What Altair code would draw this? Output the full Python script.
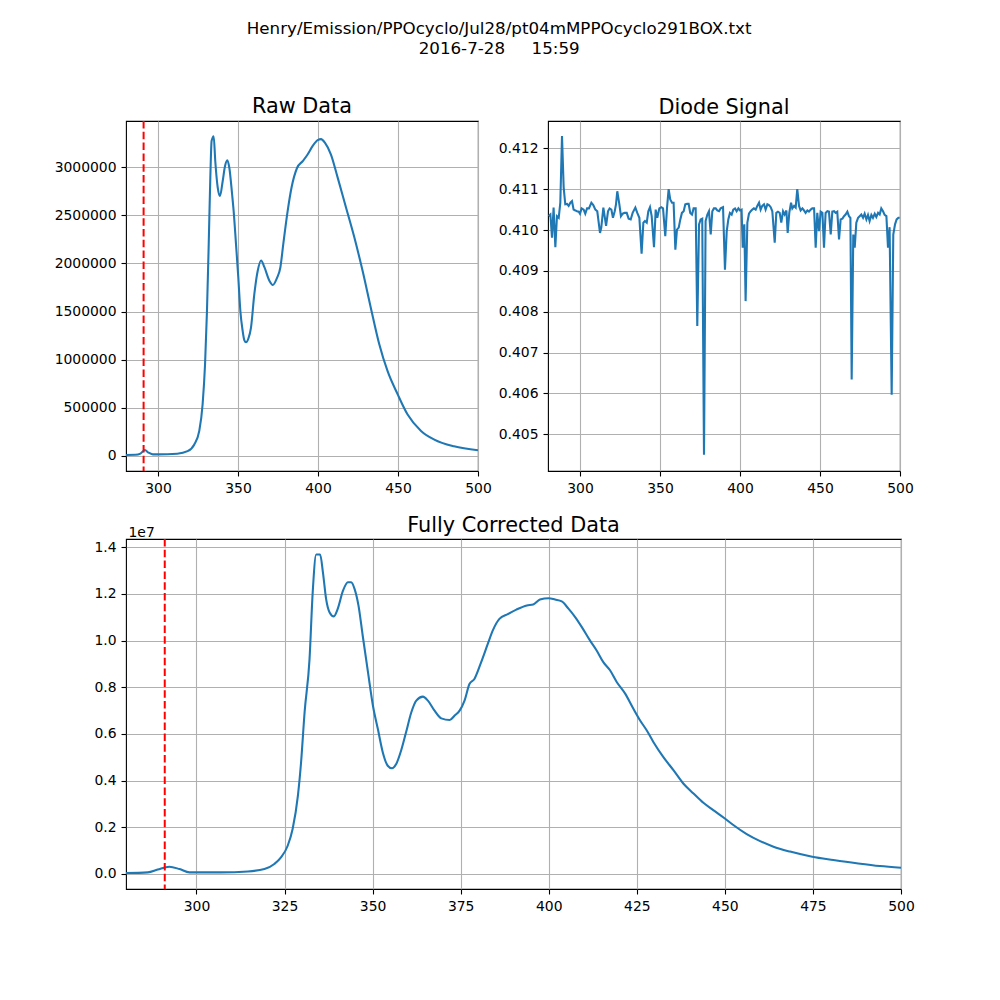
import altair as alt
import pandas as pd

FONT = "DejaVu Sans"
BLUE = "#1f77b4"

# ---------------- data ----------------
raw_nm = [280, 286, 289, 291.8, 294, 296.7, 300, 312, 318.5, 322.7,
          325.8, 327.9, 329.4, 330.6, 331.7, 332.7, 333.5, 334.8, 335.8, 337.3,
          338.75, 340.4, 341.9, 343.3, 344.6, 346.3, 347.3, 348.75, 350.2, 351.5,
          352.9, 354, 355, 356.5, 358.1, 360.2, 362.3, 364.4, 366.5, 369.6,
          371.7, 374.4, 376.5, 378.3, 381, 383.5, 386.9, 390.4, 393.5, 396.7,
          399.8, 401.9, 404.4, 408.1, 412.3, 417.5, 422.7, 427.9, 433, 438.3,
          443.5, 449.8, 456, 464.4, 472.7, 485, 500]
raw_e6 = [0.01, 0.012, 0.025, 0.062, 0.035, 0.017, 0.017, 0.024, 0.05, 0.12,
          0.26, 0.54, 0.95, 1.5, 2.2, 2.89, 3.27, 3.32, 3.06, 2.79,
          2.70, 2.85, 3.01, 3.07, 2.99, 2.72, 2.54, 2.2, 1.85, 1.5,
          1.3, 1.2, 1.18, 1.22, 1.33, 1.68, 1.92, 2.03, 1.96, 1.82,
          1.775, 1.85, 1.96, 2.2, 2.54, 2.79, 2.99, 3.06, 3.13, 3.22,
          3.28, 3.29, 3.25, 3.13, 2.89, 2.58, 2.27, 1.92, 1.54, 1.16,
          0.88, 0.64, 0.43, 0.26, 0.17, 0.10, 0.06]

diode_nm = [280.4, 281.5, 282.5, 283.5, 284.6, 285.6, 286.7, 287.7, 288.75, 289.8,
            290.8, 291.9, 292.9, 294.0, 295.0, 296.0, 297.1, 298.1, 299.2, 300.0,
            301.0, 302.3, 303.3, 304.4, 305.6, 307.1, 308.3, 309.6, 310.8, 312.5,
            313.3, 314.6, 316.3, 317.5, 318.5, 319.6, 320.6, 321.7, 322.5, 323.3,
            324.6, 325.6, 326.7, 327.9, 329.2, 330.4, 331.7, 332.9, 334.6, 335.8,
            337.1, 338.5, 339.6, 340.6, 341.7, 342.7, 343.75, 344.8, 346.25, 347.3,
            348.3, 349.6, 350.8, 351.9, 353.3, 354.4, 355.4, 356.4, 357.5, 358.5,
            359.6, 360.6, 361.7, 362.7, 363.7, 364.8, 365.8, 366.9, 367.9, 368.9,
            370.0, 371.0, 372.3, 373.3, 374.4, 375.4, 376.4, 377.5, 378.5, 379.6,
            380.6, 381.7, 382.7, 383.7, 384.8, 385.8, 386.9, 387.9, 389.4, 390.6,
            391.7, 392.7, 393.7, 394.8, 395.8, 396.9, 397.9, 399.0, 400.0, 401.0,
            401.7, 402.7, 403.5, 404.6, 405.6, 406.7, 407.7, 408.7, 409.8, 410.8,
            411.9, 412.9, 413.9, 415.0, 416.0, 417.1, 418.1, 419.2, 420.2, 421.7,
            422.7, 423.7, 424.8, 425.8, 426.9, 427.9, 429.0, 429.8, 430.8, 431.9,
            432.7, 433.8, 434.8, 435.8, 436.9, 437.9, 439.0, 440.0, 441.0, 442.1,
            443.1, 444.2, 445.2, 446.3, 447.3, 448.3, 449.4, 450.4, 451.5, 452.5,
            453.5, 454.6, 455.6, 456.7, 457.7, 458.8, 459.8, 460.8, 461.9, 462.9,
            464.0, 465.0, 466.0, 467.1, 468.1, 469.0, 469.8, 470.8, 471.7, 472.7,
            473.8, 474.8, 475.8, 476.9, 477.9, 479.0, 480.0, 481.0, 482.1, 483.1,
            484.2, 485.2, 486.3, 487.3, 488.3, 489.4, 490.4, 491.5, 492.5, 493.5,
            494.8, 495.8, 496.9, 497.9, 499.0, 499.8]
diode_val = [0.41034, 0.41038, 0.40981, 0.41055, 0.40958, 0.41034, 0.41030, 0.41067, 0.41230, 0.41104,
             0.41063, 0.41064, 0.41059, 0.41067, 0.41071, 0.41050, 0.41048, 0.41046, 0.41045, 0.41040,
             0.41053, 0.41050, 0.41040, 0.41053, 0.41053, 0.41067, 0.41061, 0.41050, 0.41046, 0.40993,
             0.41006, 0.41055, 0.41010, 0.41046, 0.41053, 0.41050, 0.41030, 0.41046, 0.41063, 0.41095,
             0.41063, 0.41034, 0.41040, 0.41042, 0.41042, 0.41028, 0.41026, 0.41042, 0.41055, 0.41042,
             0.41030, 0.40942, 0.41018, 0.41022, 0.41018, 0.41046, 0.41056, 0.41034, 0.40958, 0.41050,
             0.41030, 0.41053, 0.41056, 0.41053, 0.40985, 0.41055, 0.41100, 0.41075, 0.41067, 0.41067,
             0.40952, 0.41001, 0.41006, 0.41026, 0.41042, 0.41046, 0.41063, 0.41064, 0.41064, 0.41042,
             0.41038, 0.41053, 0.41053, 0.40765, 0.41014, 0.41026, 0.41028, 0.40450, 0.41022, 0.41038,
             0.41046, 0.40989, 0.41046, 0.41053, 0.41053, 0.41048, 0.41046, 0.41053, 0.41056, 0.40903,
             0.40997, 0.41026, 0.41042, 0.41038, 0.41050, 0.41053, 0.41046, 0.41053, 0.41048, 0.41050,
             0.40957, 0.41014, 0.40826, 0.41018, 0.41040, 0.41046, 0.41050, 0.41053, 0.41050, 0.41059,
             0.41067, 0.41050, 0.41059, 0.41063, 0.41050, 0.41063, 0.41061, 0.41056, 0.41046, 0.40969,
             0.41042, 0.41045, 0.41042, 0.41018, 0.41046, 0.41038, 0.41048, 0.40993, 0.41042, 0.41067,
             0.41053, 0.41059, 0.41055, 0.41100, 0.41059, 0.41048, 0.41053, 0.41048, 0.41042, 0.41048,
             0.41045, 0.41050, 0.41053, 0.41053, 0.40957, 0.41042, 0.40997, 0.41045, 0.41042, 0.40957,
             0.41042, 0.41046, 0.41045, 0.40989, 0.41045, 0.41046, 0.41042, 0.41045, 0.40977, 0.41026,
             0.41028, 0.41034, 0.41038, 0.41045, 0.41034, 0.41030, 0.40634, 0.40989, 0.40957, 0.41018,
             0.41030, 0.41034, 0.41038, 0.41030, 0.41040, 0.41026, 0.41037, 0.41022, 0.41037, 0.41030,
             0.41040, 0.41032, 0.41042, 0.41038, 0.41053, 0.41046, 0.41037, 0.41034, 0.40957, 0.41007,
             0.40597, 0.40989, 0.41014, 0.41026, 0.41030, 0.41030]

corr_nm = [280, 286.2, 289, 292.3, 295.2, 298, 307, 314.6, 319.3, 322.1,
           324, 325.9, 327.3, 328.8, 329.7, 330.7, 332.1, 333, 334, 335.1,
           335.9, 336.8, 337.8, 339, 340.1, 341.6, 343, 343.9, 344.9, 346,
           347.2, 348.7, 350.1, 351.5, 352.9, 354.3, 355.5, 356.7, 358.1, 359.5,
           361, 362.4, 364.3, 365.7, 367.6, 369.5, 371.9, 373.3, 374.7, 376.1,
           377.5, 378.9, 380.8, 382.7, 384.1, 386, 388.4, 390.8, 393.8, 395.6,
           397.5, 400, 401.8, 403.7, 405.6, 407.5, 409.4, 411.7, 413.6, 415.5,
           417.4, 419.3, 421.7, 424, 425.9, 427.8, 429.7, 432.5, 435.4, 438.2,
           441.1, 443.9, 446.7, 450, 452.4, 456.2, 460, 463.8, 468.5, 474.8,
           480.8, 487.4, 494, 500]
corr_e7 = [0.004, 0.007, 0.019, 0.031, 0.021, 0.007, 0.007, 0.011, 0.021, 0.043,
           0.071, 0.121, 0.193, 0.336, 0.479, 0.693, 0.921, 1.207, 1.369, 1.369,
           1.293, 1.179, 1.121, 1.104, 1.136, 1.214, 1.25, 1.25, 1.221, 1.15,
           1.021, 0.864, 0.721, 0.621, 0.521, 0.464, 0.453, 0.471, 0.529, 0.607,
           0.693, 0.743, 0.76, 0.743, 0.70, 0.667, 0.66, 0.679, 0.70, 0.743,
           0.814, 0.836, 0.907, 0.986, 1.043, 1.093, 1.114, 1.133, 1.151, 1.155,
           1.176, 1.182, 1.176, 1.168, 1.137, 1.101, 1.058, 1.001, 0.958, 0.908,
           0.873, 0.823, 0.773, 0.709, 0.659, 0.616, 0.566, 0.502, 0.445, 0.388,
           0.345, 0.305, 0.274, 0.238, 0.21, 0.171, 0.141, 0.117, 0.096, 0.074,
           0.06, 0.046, 0.034, 0.027]

excitation_nm = [291]

top_xticks = [300, 350, 400, 450, 500]
bottom_xticks = [300, 325, 350, 375, 400, 425, 450, 475, 500]
raw_yticks = [0, 500000, 1000000, 1500000, 2000000, 2500000, 3000000]
diode_yticks = [0.405, 0.406, 0.407, 0.408, 0.409, 0.410, 0.411, 0.412]
corr_yticks = [0, 2e6, 4e6, 6e6, 8e6, 1e7, 1.2e7, 1.4e7]

suptitle = ["Henry/Emission/PPOcyclo/Jul28/pt04mMPPOcyclo291BOX.txt",
            "2016-7-28\u00a0\u00a0\u00a0\u00a0\u00a015:59"]

# ---------------- tables ----------------
raw_df = pd.DataFrame({"nm": raw_nm, "v": [v * 1e6 for v in raw_e6]})
diode_df = pd.DataFrame({"nm": diode_nm, "v": diode_val})
corr_df = pd.DataFrame({"nm": corr_nm, "v": [v * 1e7 for v in corr_e7]})
rule_df = pd.DataFrame({"nm": excitation_nm})

XSCALE = alt.Scale(domain=[280, 500], nice=False, zero=False)
LINE_W = 2.08
TITLE_KW = dict(fontSize=20.8, fontWeight="normal", font=FONT, color="black",
                baseline="bottom", offset=9)


def xenc(ticks):
    return alt.X("nm:Q", scale=XSCALE,
                 axis=alt.Axis(values=ticks, title=None, format="d",
                               minExtent=25, maxExtent=25))


def rule():
    return alt.Chart(rule_df).mark_rule(
        color="red", strokeWidth=2.0, strokeDash=[7.5, 3.3]
    ).encode(x=alt.X("nm:Q", scale=XSCALE))


raw_line = alt.Chart(raw_df).mark_line(
    color=BLUE, strokeWidth=LINE_W, interpolate="monotone", clip=True
).encode(
    x=xenc(top_xticks),
    y=alt.Y("v:Q",
            scale=alt.Scale(domain=[-156000, 3478000], nice=False, zero=False),
            axis=alt.Axis(values=raw_yticks, title=None, format="d",
                          minExtent=72, maxExtent=72)),
)
raw = alt.layer(raw_line, rule()).properties(
    width=352, height=350, title=alt.Title("Raw Data", dy=27, **TITLE_KW))

diode = alt.Chart(diode_df).mark_line(
    color=BLUE, strokeWidth=LINE_W, clip=True
).encode(
    x=xenc(top_xticks),
    y=alt.Y("v:Q",
            scale=alt.Scale(domain=[0.40410, 0.41267], nice=False, zero=False),
            axis=alt.Axis(values=diode_yticks, title=None, format=".3f",
                          minExtent=50, maxExtent=50)),
).properties(width=352, height=350,
             title=alt.Title("Diode Signal", dy=27, **TITLE_KW))

corr_line = alt.Chart(corr_df).mark_line(
    color=BLUE, strokeWidth=LINE_W, interpolate="monotone", clip=True
).encode(
    x=xenc(bottom_xticks),
    y=alt.Y("v:Q",
            scale=alt.Scale(domain=[-643000, 14356000], nice=False, zero=False),
            axis=alt.Axis(values=corr_yticks, title="1e7",
                          labelExpr="format(datum.value / 1e7, '.1f')",
                          minExtent=72, maxExtent=72,
                          titleAngle=0, titleAlign="left",
                          titleBaseline="alphabetic", titleX=2, titleY=-3,
                          titleFontSize=13.9, titleFontWeight="normal",
                          titleFont=FONT, titleColor="black")),
)
corr = alt.layer(corr_line, rule()).properties(
    width=775, height=350,
    title=alt.Title("Fully Corrected Data", dy=41, **TITLE_KW))

top = alt.hconcat(raw, diode, spacing=5)

chart = alt.vconcat(top, corr, spacing=17).properties(
    title=alt.Title(suptitle, fontSize=16.7, fontWeight="normal", font=FONT,
                    color="black", lineHeight=19.5, offset=21, anchor="middle",
                    baseline="bottom", dx=15),
    padding={"left": 45, "top": 13, "right": 10, "bottom": 10},
).configure_view(
    stroke="black", strokeWidth=1.1
).configure_axis(
    labelFont=FONT, labelFontSize=13.9, labelColor="black",
    tickColor="black", tickSize=5, tickWidth=1.1, labelPadding=5,
    gridColor="#b0b0b0", gridWidth=1.1, domain=False,
    labelFlush=False, labelOverlap=False,
)

chart.save("out.html", embed_options={"renderer": "svg", "actions": False})
